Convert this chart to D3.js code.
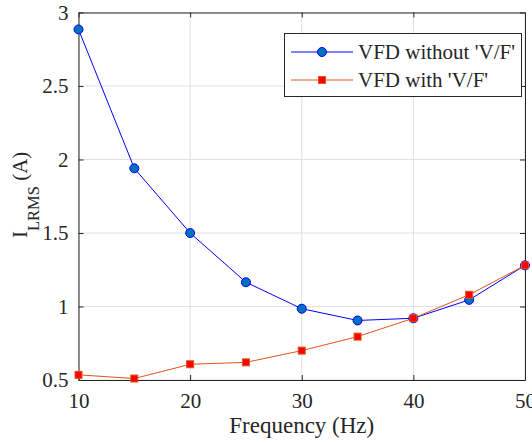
<!DOCTYPE html>
<html>
<head>
<meta charset="utf-8">
<script src="https://cdn.jsdelivr.net/npm/d3@7"></script>
</head>
<body style="margin:0;background:#fff">
<svg id="chart" width="532" height="444" style="display:block"></svg>
<script>
// Frequency sweep (Hz) and measured line RMS current (A)
const frequency = [10, 15, 20, 25, 30, 35, 40, 45, 50];
const withoutVF = [2.885, 1.94, 1.50, 1.165, 0.985, 0.905, 0.92, 1.045, 1.28];
const withVF    = [0.535, 0.51, 0.607, 0.62, 0.70, 0.795, 0.92, 1.08, 1.28];
const xTicks = [10, 20, 30, 40, 50];
const yTicks = [0.5, 1, 1.5, 2, 2.5, 3];
const seriesNames = ["VFD without 'V/F'", "VFD with 'V/F'"];

const svg = d3.select("#chart");
const margin = { left: 78.5, right: 7, top: 12.5, bottom: 64 };
const W = 532, H = 444;
const serif = "Liberation Serif";

const x = d3.scaleLinear().domain([10, 50]).range([margin.left, W - margin.right]);
const y = d3.scaleLinear().domain([0.5, 3]).range([H - margin.bottom, margin.top]);

const axisColor = "#262626";
const gridColor = "#dfdfdf";

// grid
const grid = svg.append("g");
grid.selectAll(".gx").data(xTicks).join("line")
  .attr("x1", d => x(d)).attr("x2", d => x(d))
  .attr("y1", y(0.5)).attr("y2", y(3))
  .attr("stroke", gridColor).attr("stroke-width", 1);
grid.selectAll(".gy").data(yTicks).join("line")
  .attr("x1", x(10)).attr("x2", x(50))
  .attr("y1", d => y(d)).attr("y2", d => y(d))
  .attr("stroke", gridColor).attr("stroke-width", 1);

// axes (ticks point inward, box closed on all four sides)
const fmt = d => String(d);
const xAxis = svg.append("g").attr("transform", `translate(0,${y(0.5)})`)
  .call(d3.axisBottom(x).tickValues(xTicks).tickFormat(fmt).tickSizeInner(-5).tickSizeOuter(0).tickPadding(13));
const xAxisTop = svg.append("g").attr("transform", `translate(0,${y(3)})`)
  .call(d3.axisTop(x).tickValues(xTicks).tickFormat("").tickSizeInner(-5).tickSizeOuter(0));
const yAxis = svg.append("g").attr("transform", `translate(${x(10)},0)`)
  .call(d3.axisLeft(y).tickValues(yTicks).tickFormat(fmt).tickSizeInner(-5).tickSizeOuter(0).tickPadding(10));
const yAxisRight = svg.append("g").attr("transform", `translate(${x(50)},0)`)
  .call(d3.axisRight(y).tickValues(yTicks).tickFormat("").tickSizeInner(-5).tickSizeOuter(0));

[xAxis, xAxisTop, yAxis, yAxisRight].forEach(g => {
  g.attr("font-family", serif).attr("font-size", 21);
  g.select(".domain").attr("stroke", axisColor).attr("stroke-width", 1);
  g.selectAll(".tick line").attr("stroke", axisColor);
  g.selectAll("text").attr("fill", axisColor).attr("font-family", serif).attr("font-size", 21);
});

// axis titles
svg.append("text")
  .attr("x", x(30)).attr("y", 433)
  .attr("text-anchor", "middle").attr("font-family", serif).attr("font-size", 23)
  .attr("fill", axisColor)
  .text("Frequency (Hz)");

const yl = svg.append("text")
  .attr("transform", "translate(27,238) rotate(-90)")
  .attr("text-anchor", "start").attr("font-family", serif).attr("font-size", 21)
  .attr("fill", axisColor);
yl.append("tspan").text("I");
yl.append("tspan").attr("dy", 12).attr("font-size", 16.5).text("LRMS");
yl.append("tspan").attr("dy", -12).text(" (A)");

// series
const line = d3.line().x((d, i) => x(frequency[i])).y(d => y(d));

const blueLine = "#0000ff", blueFill = "#0072bd";
const redLine = "#e2541d", redFill = "#ff0000";

svg.append("path").datum(withoutVF).attr("d", line)
  .attr("fill", "none").attr("stroke", blueLine).attr("stroke-width", 1);
svg.append("path").datum(withVF).attr("d", line)
  .attr("fill", "none").attr("stroke", redLine).attr("stroke-width", 1);

svg.append("g").selectAll("circle").data(withoutVF).join("circle")
  .attr("cx", (d, i) => x(frequency[i])).attr("cy", d => y(d)).attr("r", 4.5)
  .attr("fill", blueFill).attr("stroke", blueLine).attr("stroke-width", 1);

svg.append("g").selectAll("rect").data(withVF).join("rect")
  .attr("x", (d, i) => x(frequency[i]) - 3.5).attr("y", d => y(d) - 3.5)
  .attr("width", 7).attr("height", 7)
  .attr("fill", redFill).attr("stroke", redLine).attr("stroke-width", 1);

// legend
const lg = svg.append("g");
lg.append("rect").attr("x", 284.5).attr("y", 33.5).attr("width", 237).attr("height", 63)
  .attr("fill", "#fff").attr("stroke", axisColor).attr("stroke-width", 1);
const rows = [
  { name: seriesNames[0], color: blueLine, fill: blueFill, shape: "circle", yy: 52 },
  { name: seriesNames[1], color: redLine, fill: redFill, shape: "square", yy: 80 }
];
rows.forEach(r => {
  lg.append("line").attr("x1", 291).attr("x2", 353).attr("y1", r.yy).attr("y2", r.yy)
    .attr("stroke", r.color).attr("stroke-width", 1);
  if (r.shape === "circle") {
    lg.append("circle").attr("cx", 322).attr("cy", r.yy).attr("r", 4.5)
      .attr("fill", r.fill).attr("stroke", r.color);
  } else {
    lg.append("rect").attr("x", 318.5).attr("y", r.yy - 3.5).attr("width", 7).attr("height", 7)
      .attr("fill", r.fill).attr("stroke", r.color);
  }
  lg.append("text").attr("x", 358).attr("y", r.yy + 6.5)
    .attr("font-family", serif).attr("font-size", 21).attr("fill", axisColor).text(r.name);
});
</script>
</body>
</html>
